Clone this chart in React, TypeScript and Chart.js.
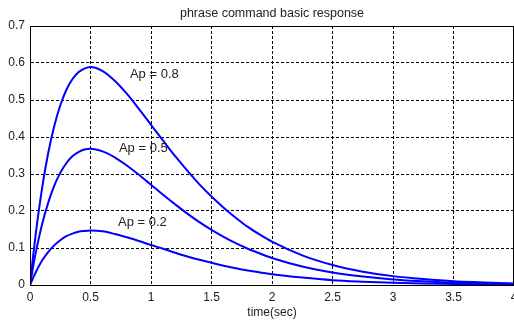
import React, { useEffect, useRef } from "react";
import { Chart, registerables } from "chart.js";

Chart.register(...registerables);

const timeSec = [0, 0.025, 0.05, 0.1, 0.15, 0.2, 0.25, 0.3, 0.35, 0.4, 0.45, 0.5, 0.6, 0.7, 0.8, 0.9, 1.0, 1.1, 1.2, 1.3, 1.4, 1.5, 1.6, 1.7, 1.8, 1.9, 2.0, 2.25, 2.5, 2.75, 3.0, 3.25, 3.5, 3.75, 4.0];
const ap08 = [0, 0.076, 0.145, 0.262, 0.356, 0.429, 0.485, 0.527, 0.556, 0.575, 0.585, 0.589, 0.578, 0.552, 0.517, 0.476, 0.433, 0.39, 0.348, 0.309, 0.272, 0.239, 0.209, 0.182, 0.157, 0.136, 0.117, 0.08, 0.054, 0.036, 0.024, 0.016, 0.01, 0.007, 0.004];
const ap05 = [0, 0.048, 0.091, 0.164, 0.222, 0.268, 0.303, 0.329, 0.348, 0.359, 0.366, 0.368, 0.361, 0.345, 0.323, 0.298, 0.271, 0.244, 0.218, 0.193, 0.17, 0.149, 0.13, 0.113, 0.098, 0.085, 0.073, 0.05, 0.034, 0.023, 0.015, 0.01, 0.006, 0.004, 0.003];
const ap02 = [0, 0.019, 0.036, 0.066, 0.089, 0.107, 0.121, 0.132, 0.139, 0.144, 0.146, 0.147, 0.145, 0.138, 0.129, 0.119, 0.108, 0.098, 0.087, 0.077, 0.068, 0.06, 0.052, 0.045, 0.039, 0.034, 0.029, 0.02, 0.013, 0.009, 0.006, 0.004, 0.003, 0.002, 0.001];

const xTickLabels = ["0", "0.5", "1", "1.5", "2", "2.5", "3", "3.5", "4"];
const yTickLabels = ["0", "0.1", "0.2", "0.3", "0.4", "0.5", "0.6", "0.7"];

const chartTitle = "phrase command basic response";
const noteLabels = ["Ap = 0.8", "Ap = 0.5", "Ap = 0.2"];
const noteTime = [0.826, 0.735, 0.727];
const noteValue = [0.568, 0.37, 0.168];

const FONT = "'Liberation Sans', Arial, sans-serif";

const toPoints = (ys: number[]) => timeSec.map((t, i) => ({ x: t, y: ys[i] }));

const boxAndNotes = {
  id: "boxAndNotes",
  afterDraw(chart: any) {
    const { ctx, chartArea, scales } = chart;
    ctx.save();
    ctx.strokeStyle = "#000";
    ctx.lineWidth = 1;
    ctx.setLineDash([]);
    ctx.strokeRect(
      Math.round(chartArea.left) + 0.5,
      Math.round(chartArea.top) + 0.5,
      Math.round(chartArea.right - chartArea.left) - 1,
      Math.round(chartArea.bottom - chartArea.top)
    );
    ctx.fillStyle = "#222";
    ctx.font = `12.5px ${FONT}`;
    ctx.textAlign = "center";
    ctx.textBaseline = "middle";
    ctx.fillText(chartTitle, (chartArea.left + chartArea.right) / 2, 14);
    ctx.font = `13px ${FONT}`;
    ctx.textAlign = "left";
    noteLabels.forEach((txt, i) => {
      ctx.fillText(txt, scales.x.getPixelForValue(noteTime[i]), scales.y.getPixelForValue(noteValue[i]));
    });
    ctx.restore();
  },
};

export default function App() {
  const ref = useRef<HTMLCanvasElement | null>(null);
  useEffect(() => {
    if (!ref.current) return;
    const mk = (ys: number[]) => ({
      data: toPoints(ys),
      borderColor: "#0000ff",
      borderWidth: 2,
      pointRadius: 0,
      fill: false,
      cubicInterpolationMode: "monotone" as const,
    });
    const chart = new Chart(ref.current, {
      type: "line",
      data: { datasets: [mk(ap08), mk(ap05), mk(ap02)] },
      options: {
        animation: false,
        responsive: false,
        events: [],
        layout: { padding: { left: 0, right: 0, top: 26, bottom: 0 } },
        plugins: {
          legend: { display: false },
          tooltip: { enabled: false },
          title: { display: false },
        },
        scales: {
          x: {
            type: "linear",
            min: 0,
            max: 4,
            afterBuildTicks: (s: any) => {
              s.ticks = xTickLabels.map((l) => ({ value: parseFloat(l) }));
            },
            afterFit: (s: any) => {
              s.height = 37;
              s.paddingRight = 0;
              s.paddingLeft = 0;
            },
            ticks: {
              color: "#222",
              font: { family: FONT, size: 12 },
              padding: 5,
              maxRotation: 0,
              autoSkip: false,
              callback: (v: any) => xTickLabels.find((l) => Math.abs(parseFloat(l) - v) < 1e-6) ?? "",
            },
            grid: { color: "#000", lineWidth: 1, drawTicks: false },
            border: { display: true, color: "#000", width: 1, dash: [3, 2] },
            title: {
              display: true,
              text: "time(sec)",
              color: "#222",
              font: { family: FONT, size: 12 },
              padding: { top: 1, bottom: 2 },
            },
          },
          y: {
            type: "linear",
            min: 0,
            max: 0.7,
            afterBuildTicks: (s: any) => {
              s.ticks = yTickLabels.map((l) => ({ value: parseFloat(l) }));
            },
            afterFit: (s: any) => {
              s.width = 30;
              s.paddingTop = 0;
              s.paddingBottom = 0;
            },
            ticks: {
              color: "#222",
              font: { family: FONT, size: 12 },
              padding: 5,
              autoSkip: false,
              callback: (v: any) => yTickLabels.find((l) => Math.abs(parseFloat(l) - v) < 1e-6) ?? "",
            },
            grid: { color: "#000", lineWidth: 1, drawTicks: false },
            border: { display: true, color: "#000", width: 1, dash: [3, 2] },
          },
        },
      },
      plugins: [boxAndNotes],
    });
    return () => chart.destroy();
  }, []);
  return (
    <div style={{ position: "fixed", left: 0, top: 0, width: 514, height: 322, background: "#fff" }}>
      <canvas ref={ref} width={514} height={322} style={{ display: "block" }} />
    </div>
  );
}
